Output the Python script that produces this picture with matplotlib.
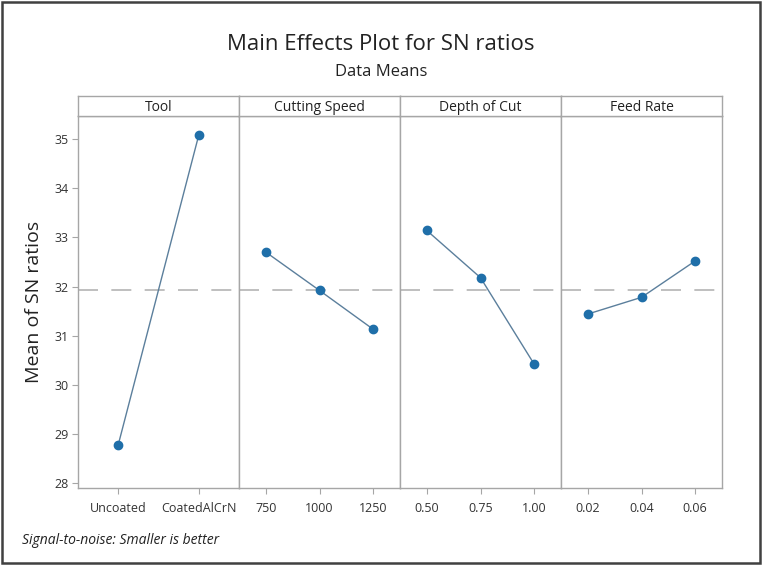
import matplotlib
matplotlib.use("Agg")
import matplotlib.pyplot as plt
from matplotlib.patches import Rectangle

plt.rcParams['font.family'] = ['Open Sans', 'DejaVu Sans']

factors = ["Tool", "Cutting Speed", "Depth of Cut", "Feed Rate"]
levels = [
    ["Uncoated", "CoatedAlCrN"],
    ["750", "1000", "1250"],
    ["0.50", "0.75", "1.00"],
    ["0.02", "0.04", "0.06"],
]
sn_means = [
    [28.78, 35.08],
    [32.70, 31.92, 31.13],
    [33.14, 32.18, 30.42],
    [31.44, 31.78, 32.52],
]
grand_mean = 31.92
yticks = [28, 29, 30, 31, 32, 33, 34, 35]

W, H = 762, 565
fig = plt.figure(figsize=(W / 100, H / 100), dpi=100)

frame_col = "#a6a6a6"
mark_col = "#1f6fa9"
line_col = "#5b7f9c"

left_px, right_px = 78, 722
bottom_px, top_px, strip_top_px = 488, 116, 96
panel_w = (right_px - left_px) / 4

axes = []
for i, fac in enumerate(factors):
    x0 = (left_px + i * panel_w) / W
    ax = fig.add_axes([x0, 1 - bottom_px / H, panel_w / W, (bottom_px - top_px) / H])
    n = len(levels[i])
    xs = list(range(n))
    ax.plot(xs, sn_means[i], color=line_col, lw=1.0, zorder=3)
    ax.plot(xs, sn_means[i], 'o', color=mark_col, ms=6, zorder=4)
    ax.axhline(grand_mean, color="#b4b4b4", lw=1.2, dashes=(12, 8), zorder=1)
    ax.set_xlim(-0.5, n - 0.5)
    ax.set_ylim(27.9, 35.47)
    ax.set_xticks(xs)
    ax.set_xticklabels(levels[i], fontsize=9, color="#333333")
    ax.tick_params(axis='x', length=4, color=frame_col, pad=6)
    ax.set_yticks(yticks)
    if i == 0:
        ax.set_yticklabels([str(t) for t in yticks], fontsize=9, color="#333333")
        ax.tick_params(axis='y', length=4, color=frame_col, pad=3)
        ax.set_ylabel("Mean of SN ratios", fontsize=14, color="#222222", labelpad=8)
    else:
        ax.tick_params(axis='y', left=False, labelleft=False)
    for sp in ax.spines.values():
        sp.set_color(frame_col)
        sp.set_linewidth(1.0)
    # strip header
    sax = fig.add_axes([x0, 1 - top_px / H, panel_w / W, (top_px - strip_top_px) / H])
    sax.set_xticks([])
    sax.set_yticks([])
    for sp in sax.spines.values():
        sp.set_color(frame_col)
        sp.set_linewidth(1.0)
    sax.text(0.5, 0.45, fac, ha='center', va='center', fontsize=10,
             color="#222222", transform=sax.transAxes)
    axes.append(ax)

fig.text(0.5, 1 - 44 / H, "Main Effects Plot for SN ratios", ha='center', va='center',
         fontsize=16, color="#222222")
fig.text(0.5, 1 - 72 / H, "Data Means", ha='center', va='center',
         fontsize=12, color="#222222")
fig.text(22 / W, 1 - 541 / H, "Signal-to-noise: Smaller is better", ha='left', va='center',
         fontsize=10, style='italic', color="#222222")

# outer border
fig.patches.append(Rectangle((2 / W, 2 / H), 1 - 4 / W, 1 - 4 / H, transform=fig.transFigure,
                             fill=False, edgecolor="#404040", lw=1.8))

fig.savefig("out.png", dpi=100, facecolor="white")
